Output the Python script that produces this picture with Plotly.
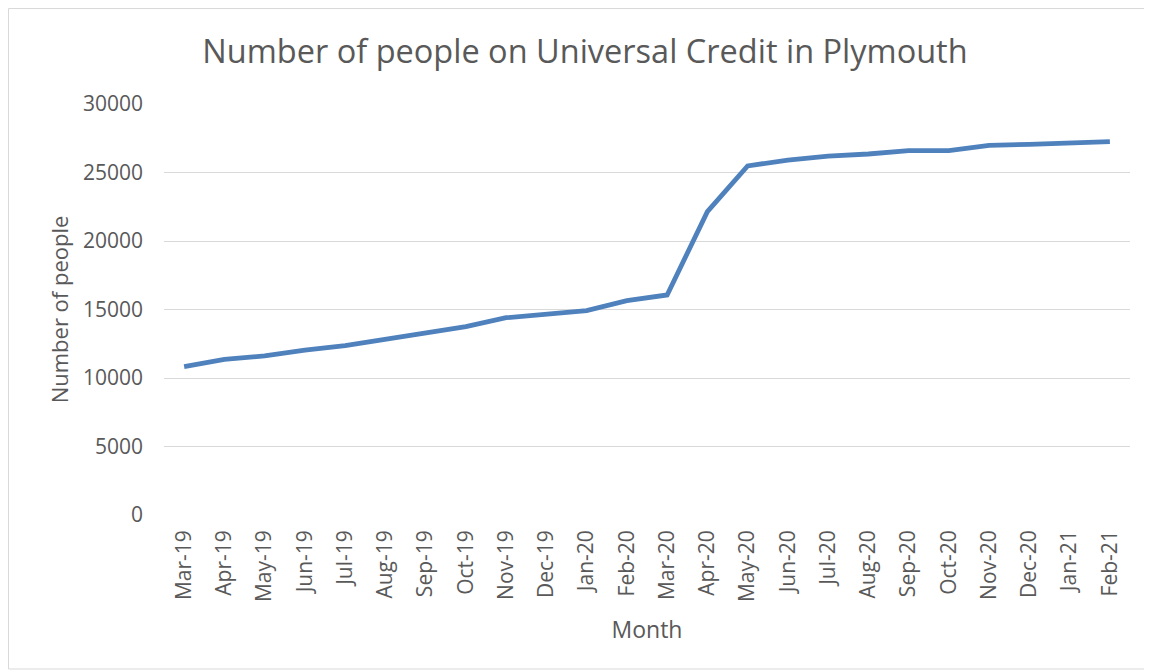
import plotly.graph_objects as go

months = ["Mar-19", "Apr-19", "May-19", "Jun-19", "Jul-19", "Aug-19", "Sep-19", "Oct-19",
          "Nov-19", "Dec-19", "Jan-20", "Feb-20", "Mar-20", "Apr-20", "May-20", "Jun-20",
          "Jul-20", "Aug-20", "Sep-20", "Oct-20", "Nov-20", "Dec-20", "Jan-21", "Feb-21"]
people = [10830, 11360, 11610, 12040, 12360, 12820, 13260, 13750,
          14400, 14690, 14920, 15650, 16060, 22140, 25480, 25910,
          26200, 26350, 26600, 26600, 26980, 27060, 27130, 27260]
y_ticks = [0, 5000, 10000, 15000, 20000, 25000, 30000]

W, H = 1152, 672
OFF = 8  # page body margin
ML, MR, MT, MB = 164 - OFF, 22 + OFF, 104 - OFF, 157 + OFF
pw, ph = W - ML - MR, H - MT - MB

fig = go.Figure()
fig.add_trace(go.Scatter(
    x=list(range(len(months))), y=people, mode="lines",
    line=dict(color="#4F81BD", width=4.8),
    hoverinfo="x+y", showlegend=False,
))

grey = "#595959"
font = "Open Sans, sans-serif"
fig.update_layout(
    width=W, height=H,
    margin=dict(l=ML, r=MR, t=MT, b=MB),
    paper_bgcolor="white", plot_bgcolor="white",
    font=dict(family=font, color=grey),
    title=dict(text="Number of people on Universal Credit in Plymouth",
               x=(585 - OFF) / W, xanchor="center", xref="container",
               y=1 - (52 - OFF) / H, yanchor="middle",
               font=dict(size=32.5, color=grey, family=font)),
    xaxis=dict(
        tickmode="array", tickvals=list(range(len(months))), ticktext=months,
        range=[-0.5, len(months) - 0.5], tickangle=-90,
        tickfont=dict(size=21, color=grey, family=font),
        showgrid=False, zeroline=False, showline=False, ticks="", ticklabelstandoff=10,
        title=dict(text="Month", font=dict(size=23, color=grey), standoff=20),
    ),
    yaxis=dict(
        range=[0, 30000], tickmode="array", tickvals=y_ticks,
        ticktext=[str(v) for v in y_ticks],
        tickfont=dict(size=21, color=grey),
        showgrid=True, gridcolor="#D9D9D9", gridwidth=1.3,
        zeroline=False, showline=False, ticks="", ticklabelstandoff=20,
        title=dict(text="Number of people", font=dict(size=22, color=grey), standoff=8),
    ),
    shapes=[dict(
        type="rect", xref="paper", yref="paper",
        x0=(0.5 - ML) / pw, x1=(1141 - ML) / pw,
        y0=(H - MB - 661) / ph, y1=(H - MB - 0.5) / ph,
        line=dict(color="#D9D9D9", width=1), fillcolor="rgba(0,0,0,0)", layer="below",
    )],
)

fig.write_html("out.html")
